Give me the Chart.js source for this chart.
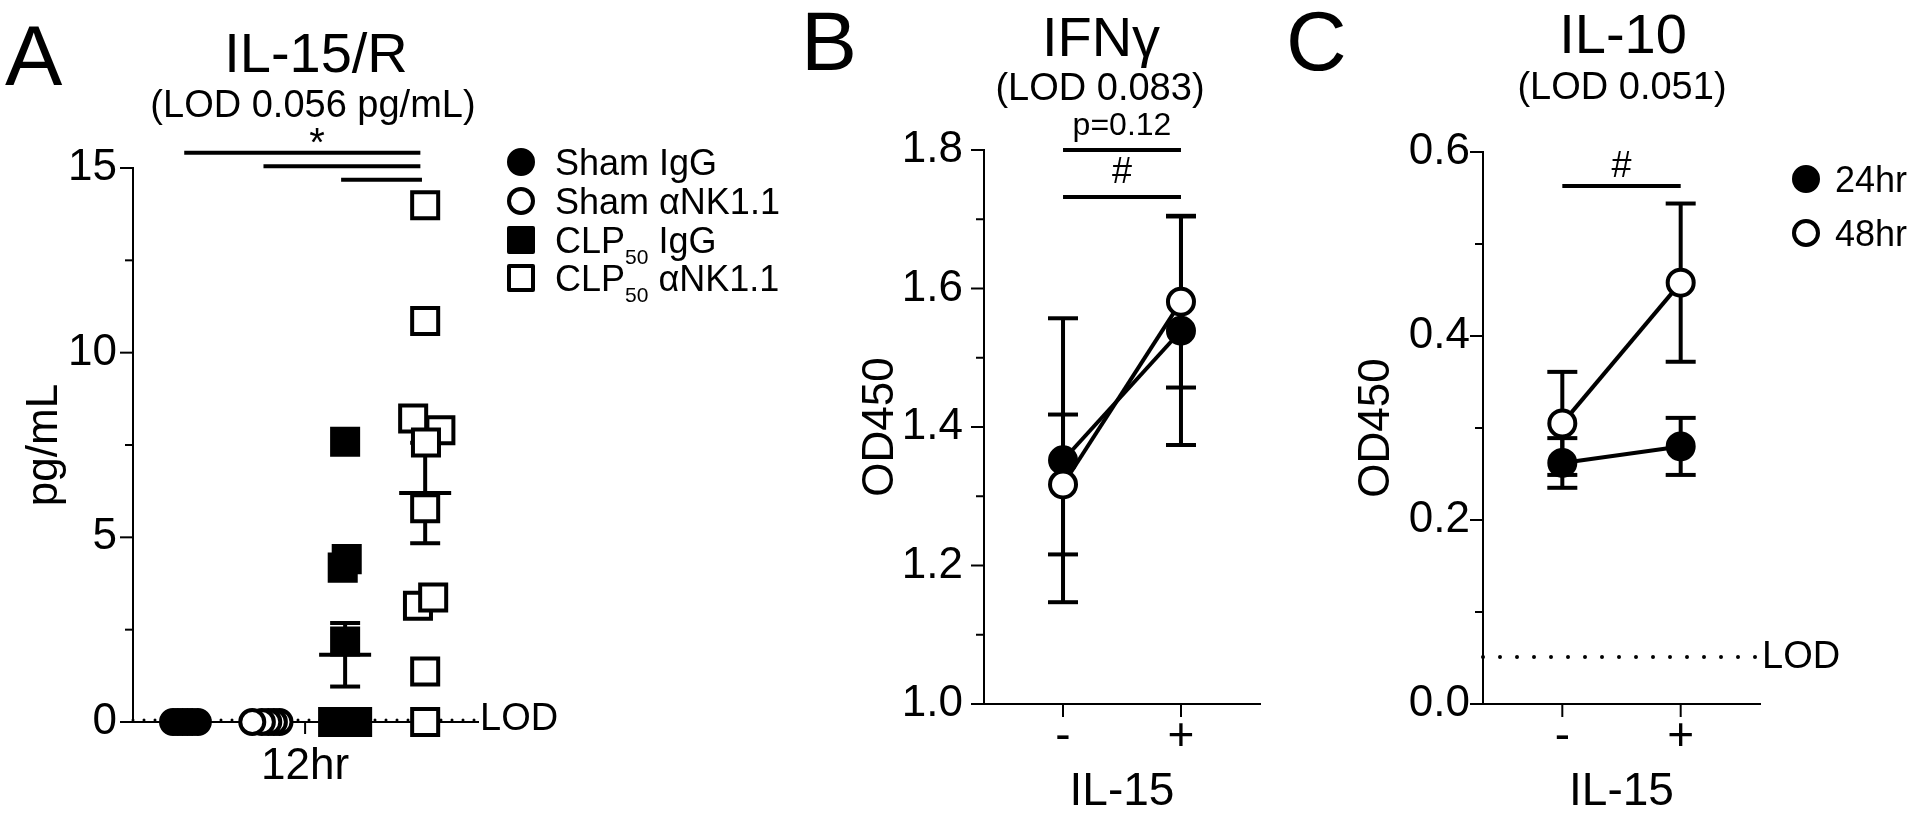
<!DOCTYPE html>
<html>
<head>
<meta charset="utf-8">
<title>IL-15 figure</title>
<script src="https://cdn.jsdelivr.net/npm/chart.js@4.4.1/dist/chart.umd.min.js"></script>
<style>
  body { margin: 0; background: #fff; }
  #fig { position: relative; width: 1920px; height: 817px; overflow: hidden;
         font-family: 'Liberation Sans', Arial, sans-serif; color: #000; }
  #fig canvas { position: absolute; top: 0; }
  .t { position: absolute; line-height: 1; white-space: nowrap; }
  .c { text-align: center; width: 400px; }
  .mk { position: absolute; box-sizing: border-box; width: 28px; height: 28px; border: 4px solid #000; }
  sub { font-size: 21px; vertical-align: -11px; line-height: 0; }
</style>
</head>
<body>
<div id="fig">
  <canvas id="chartA" width="640" height="817" style="left:0"></canvas>
  <canvas id="chartB" width="640" height="817" style="left:640px"></canvas>
  <canvas id="chartC" width="640" height="817" style="left:1280px"></canvas>

  <div class="t" style="left:5px;top:12px;font-size:86px">A</div>
  <div class="t" style="left:801px;top:-1px;font-size:84px">B</div>
  <div class="t" style="left:1286px;top:-1px;font-size:84px">C</div>

  <div class="t c" style="left:116px;top:25px;font-size:56px">IL-15/R</div>
  <div class="t c" style="left:113px;top:85px;font-size:38px">(LOD 0.056 pg/mL)</div>
  <div class="t c" style="left:901px;top:9px;font-size:56px">IFNγ</div>
  <div class="t c" style="left:900px;top:68px;font-size:38px">(LOD 0.083)</div>
  <div class="t c" style="left:1423px;top:6px;font-size:56px">IL-10</div>
  <div class="t c" style="left:1422px;top:67px;font-size:38px">(LOD 0.051)</div>

  <div id="legendA"></div>
  <div id="legendC"></div>
</div>

<script>
// ---------- données ----------
const FONT = "'Liberation Sans', Arial, sans-serif";

// A : IL-15/R (pg/mL) à 12hr, une valeur par souris
const groupsA = ['Sham IgG', 'Sham αNK1.1', 'CLP50 IgG', 'CLP50 αNK1.1'];
const groupPosA = [0.65, 1.65, 2.65, 3.65];
const shamIgG = [0, 0, 0, 0, 0, 0];
const shamIgGJit = [-0.15, -0.09, -0.03, 0.03, 0.09, 0.16];
const shamNK = [0, 0, 0, 0, 0];
const shamNKJit = [0.18, 0.11, 0.04, -0.04, -0.16];
const clpIgG = [7.59, 4.41, 4.18, 2.18, 0, 0, 0, 0, 0, 0];
const clpIgGJit = [0, 0.02, -0.03, 0, -0.15, -0.09, -0.03, 0.04, 0.1, 0.15];
const clpNK = [13.99, 10.86, 7.90, 8.22, 7.57, 5.79, 3.15, 3.37, 1.37, 0];
const clpNKJit = [0, 0, 0.19, -0.15, 0.01, 0, -0.09, 0.1, 0, 0];
const meanA = [null, null, 1.82, 6.2];
const semA = [null, null, 0.86, 1.36];
const lodA = 0.056;
const xMaxA = 4.31;
const xTickA = [2.15];
const xLabelsA = ['12hr'];
const yTicksA = [0, 2.5, 5, 7.5, 10, 12.5, 15];
const yLabelsA = ['0', '', '5', '', '10', '', '15'];

// B : IFNγ (OD450)
const il15Pos = [0, 1];
const il15Labels = ['-', '+'];
const seriesNames = ['24hr', '48hr'];
const ifn24 = [1.352, 1.539];
const ifn24Err = [0.205, 0.165];
const ifn48 = [1.317, 1.581];
const ifn48Err = [0.101, 0.124];
const yTicksB = [1.0, 1.1, 1.2, 1.3, 1.4, 1.5, 1.6, 1.7, 1.8];
const yLabelsB = ['1.0', '', '1.2', '', '1.4', '', '1.6', '', '1.8'];

// C : IL-10 (OD450)
const il10_24 = [0.262, 0.280];
const il10_24Err = [0.027, 0.031];
const il10_48 = [0.305, 0.458];
const il10_48Err = [0.056, 0.086];
const lodC = 0.051;
const yTicksC = [0, 0.1, 0.2, 0.3, 0.4, 0.5, 0.6];
const yLabelsC = ['0.0', '', '0.2', '', '0.4', '', '0.6'];
const xMinBC = -0.67, xMaxBC = 1.67;

// ---------- plugin : barres d'erreur, graduations, signif., LOD ----------
function seg(ctx, x1, y1, x2, y2) {
    ctx.beginPath(); ctx.moveTo(x1, y1); ctx.lineTo(x2, y2); ctx.stroke();
}

function drawErr(ctx, px, yScale, mean, err, cap) {
    const top = yScale.getPixelForValue(mean + err);
    const bot = yScale.getPixelForValue(mean - err);
    seg(ctx, px, top, px, bot);
    seg(ctx, px - cap, top, px + cap, top);
    seg(ctx, px - cap, bot, px + cap, bot);
}

const decor = {
    id: 'decor',
    beforeDatasetsDraw(chart, args, o) {
        const { ctx, scales: { x, y } } = chart;
        ctx.save();
        ctx.strokeStyle = '#000';
        ctx.lineWidth = 4;
        chart.data.datasets.forEach(ds => {
            if (!ds.sem) return;
            ds.data.forEach((p, i) => drawErr(ctx, x.getPixelForValue(p.x), y, p.y, ds.sem[i], 15));
        });
        (o.summary || []).forEach(s => {
            const px = x.getPixelForValue(s.x);
            drawErr(ctx, px, y, s.mean, s.sem, 15);
            const py = y.getPixelForValue(s.mean);
            seg(ctx, px - 26, py, px + 26, py);
        });
        ctx.restore();
    },
    afterDraw(chart, args, o) {
        const { ctx, chartArea, scales: { x, y } } = chart;
        ctx.save();
        ctx.strokeStyle = '#000';
        ctx.fillStyle = '#000';

        // graduations (majeures plus longues)
        ctx.lineWidth = 2;
        y.ticks.forEach(t => {
            const py = y.getPixelForValue(t.value);
            const len = t.label === '' ? 8 : 13;
            seg(ctx, chartArea.left - len, py, chartArea.left, py);
        });
        x.ticks.forEach(t => {
            const px = x.getPixelForValue(t.value);
            seg(ctx, px, chartArea.bottom, px, chartArea.bottom + (o.xTickLen || 13));
        });

        // lignes de significativité
        ctx.lineWidth = 4;
        (o.lines || []).forEach(l => {
            const py = y.getPixelForValue(l.y);
            seg(ctx, x.getPixelForValue(l.x1), py, x.getPixelForValue(l.x2), py);
        });
        ctx.textAlign = 'center';
        ctx.textBaseline = 'middle';
        (o.texts || []).forEach(t => {
            ctx.font = t.size + 'px ' + FONT;
            ctx.fillText(t.text, x.getPixelForValue(t.x), y.getPixelForValue(t.y));
        });

        if (o.lod !== undefined) {
            ctx.font = '38px ' + FONT;
            ctx.textAlign = 'left';
            ctx.fillText('LOD', chartArea.right + 2, y.getPixelForValue(o.lod));
        }
        ctx.restore();
    }
};

// ---------- options communes ----------
function yScale(min, max, ticks, labels, width, pad, title) {
    return {
        type: 'linear', min: min, max: max,
        afterBuildTicks: s => { s.ticks = ticks.map(v => ({ value: v })); },
        afterFit: s => { s.width = width; },
        grid: { display: false, drawTicks: false },
        border: { display: true, color: '#000', width: 2 },
        ticks: { autoSkip: false, padding: pad, color: '#000', font: { size: 44, family: FONT },
                 callback: (v, i) => labels[i] },
        title: { display: true, text: title, color: '#000',
                 font: { size: 44, family: FONT, lineHeight: 1 }, padding: { top: 4 } }
    };
}

function xScale(min, max, ticks, labels, height, pad, size, title) {
    return {
        type: 'linear', min: min, max: max,
        afterBuildTicks: s => { s.ticks = ticks.map(v => ({ value: v })); },
        afterFit: s => { s.height = height; },
        grid: { display: false, drawTicks: false },
        border: { display: true, color: '#000', width: 2 },
        ticks: { autoSkip: false, maxRotation: 0, padding: pad, color: '#000',
                 font: { size: size, family: FONT }, callback: (v, i) => labels[i] },
        title: { display: !!title, text: title || '', color: '#000',
                 font: { size: 46, family: FONT, lineHeight: 1 }, padding: { top: 0, bottom: 2 } }
    };
}

function baseOptions(padding, scales, decorOpts) {
    return {
        responsive: false,
        maintainAspectRatio: false,
        animation: false,
        devicePixelRatio: 1,
        layout: { padding: padding },
        scales: scales,
        plugins: { legend: { display: false }, tooltip: { enabled: false }, decor: decorOpts }
    };
}

function points(values, pos, jit) {
    return values.map((v, i) => ({ x: pos + jit[i], y: v }));
}

function marker(filled, shape, radius) {
    return {
        type: 'scatter',
        pointStyle: shape,
        pointRadius: radius,
        pointBorderWidth: 4,
        pointBorderColor: '#000',
        pointBackgroundColor: filled ? '#000' : '#fff',
        clip: false,
        order: 1
    };
}

// ---------- Panneau A ----------
new Chart(document.getElementById('chartA'), {
    type: 'scatter',
    data: {
        datasets: [
            Object.assign(marker(true, 'circle', 12), { label: groupsA[0], data: points(shamIgG, groupPosA[0], shamIgGJit) }),
            Object.assign(marker(false, 'circle', 12), { label: groupsA[1], data: points(shamNK, groupPosA[1], shamNKJit) }),
            Object.assign(marker(true, 'rect', 18.4), { label: groupsA[2], data: points(clpIgG, groupPosA[2], clpIgGJit) }),
            Object.assign(marker(false, 'rect', 18.4), { label: groupsA[3], data: points(clpNK, groupPosA[3], clpNKJit) }),
            { type: 'line', label: 'LOD', data: [{ x: 0, y: lodA }, { x: xMaxA, y: lodA }],
              borderColor: '#000', borderWidth: 3, borderDash: [0, 11], borderCapStyle: 'round',
              pointRadius: 0, clip: false, order: 5 }
        ]
    },
    options: baseOptions(
        { left: 19, top: 168, right: 162, bottom: 0 },
        {
            x: xScale(0, xMaxA, xTickA, xLabelsA, 95, 18, 44, null),
            y: yScale(0, 15, yTicksA, yLabelsA, 114, 16, 'pg/mL')
        },
        {
            summary: groupPosA.map((p, i) => ({ x: p, mean: meanA[i], sem: semA[i] })).filter(s => s.mean !== null),
            lines: [
                { x1: groupPosA[0] - 0.01, x2: 3.59, y: 15.41 },
                { x1: groupPosA[1] - 0.02, x2: 3.59, y: 15.05 },
                { x1: 2.6, x2: 3.61, y: 14.68 }
            ],
            texts: [{ text: '*', x: 2.3, y: 15.62, size: 40 }],
            lod: lodA,
            xTickLen: 12
        }
    ),
    plugins: [decor]
});

// ---------- Panneaux B et C ----------
function lineSeries(name, values, errs, filled) {
    return {
        type: 'line',
        label: name,
        data: il15Pos.map((x, i) => ({ x: x, y: values[i] })),
        sem: errs,
        borderColor: '#000',
        borderWidth: 4,
        pointRadius: 13,
        pointBorderWidth: 4,
        pointBorderColor: '#000',
        pointBackgroundColor: filled ? '#000' : '#fff',
        clip: false,
        order: filled ? 1 : 0
    };
}

new Chart(document.getElementById('chartB'), {
    type: 'line',
    data: {
        datasets: [
            lineSeries(seriesNames[0], ifn24, ifn24Err, true),
            lineSeries(seriesNames[1], ifn48, ifn48Err, false)
        ]
    },
    options: baseOptions(
        { left: 215, top: 150, right: 20, bottom: 0 },
        {
            x: xScale(xMinBC, xMaxBC, il15Pos, il15Labels, 113, 6, 46, 'IL-15'),
            y: yScale(1.0, 1.8, yTicksB, yLabelsB, 129, 21, 'OD450')
        },
        {
            lines: [{ x1: 0, x2: 1, y: 1.8 }, { x1: 0, x2: 1, y: 1.732 }],
            texts: [{ text: 'p=0.12', x: 0.5, y: 1.835, size: 32 }, { text: '#', x: 0.5, y: 1.766, size: 36 }]
        }
    ),
    plugins: [decor]
});

new Chart(document.getElementById('chartC'), {
    type: 'line',
    data: {
        datasets: [
            lineSeries(seriesNames[0], il10_24, il10_24Err, true),
            lineSeries(seriesNames[1], il10_48, il10_48Err, false),
            { type: 'line', label: 'LOD', data: [{ x: xMinBC, y: lodC }, { x: xMaxBC, y: lodC }],
              borderColor: '#000', borderWidth: 4, borderDash: [0, 17], borderCapStyle: 'round',
              pointRadius: 0, clip: false, order: 5 }
        ]
    },
    options: baseOptions(
        { left: 71, top: 152, right: 160, bottom: 0 },
        {
            x: xScale(xMinBC, xMaxBC, il15Pos, il15Labels, 113, 6, 46, 'IL-15'),
            y: yScale(0, 0.6, yTicksC, yLabelsC, 132, 13, 'OD450')
        },
        {
            lines: [{ x1: 0, x2: 1, y: 0.563 }],
            texts: [{ text: '#', x: 0.5, y: 0.584, size: 36 }],
            lod: lodC
        }
    ),
    plugins: [decor]
});

// ---------- légendes (HTML pour les indices) ----------
function legend(el, names, styles, left, rows, textLeft) {
    let html = '';
    names.forEach((n, i) => {
        const s = styles[i];
        const bg = s.filled ? '#000' : '#fff';
        const radius = s.shape === 'circle' ? '50%' : '2px';
        html += `<div class="mk" style="left:${left}px;top:${rows[i] - 14}px;background:${bg};border-radius:${radius}"></div>`;
        html += `<div class="t" style="left:${textLeft}px;top:${rows[i] - 17.5}px;font-size:36px">${n.replace('CLP50', 'CLP<sub>50</sub>')}</div>`;
    });
    el.innerHTML = html;
}

legend(document.getElementById('legendA'), groupsA,
    [{ filled: true, shape: 'circle' }, { filled: false, shape: 'circle' },
     { filled: true, shape: 'rect' }, { filled: false, shape: 'rect' }],
    507, [162, 201, 240, 278], 555);

legend(document.getElementById('legendC'), seriesNames,
    [{ filled: true, shape: 'circle' }, { filled: false, shape: 'circle' }],
    1792, [179, 233], 1835);
</script>
</body>
</html>
